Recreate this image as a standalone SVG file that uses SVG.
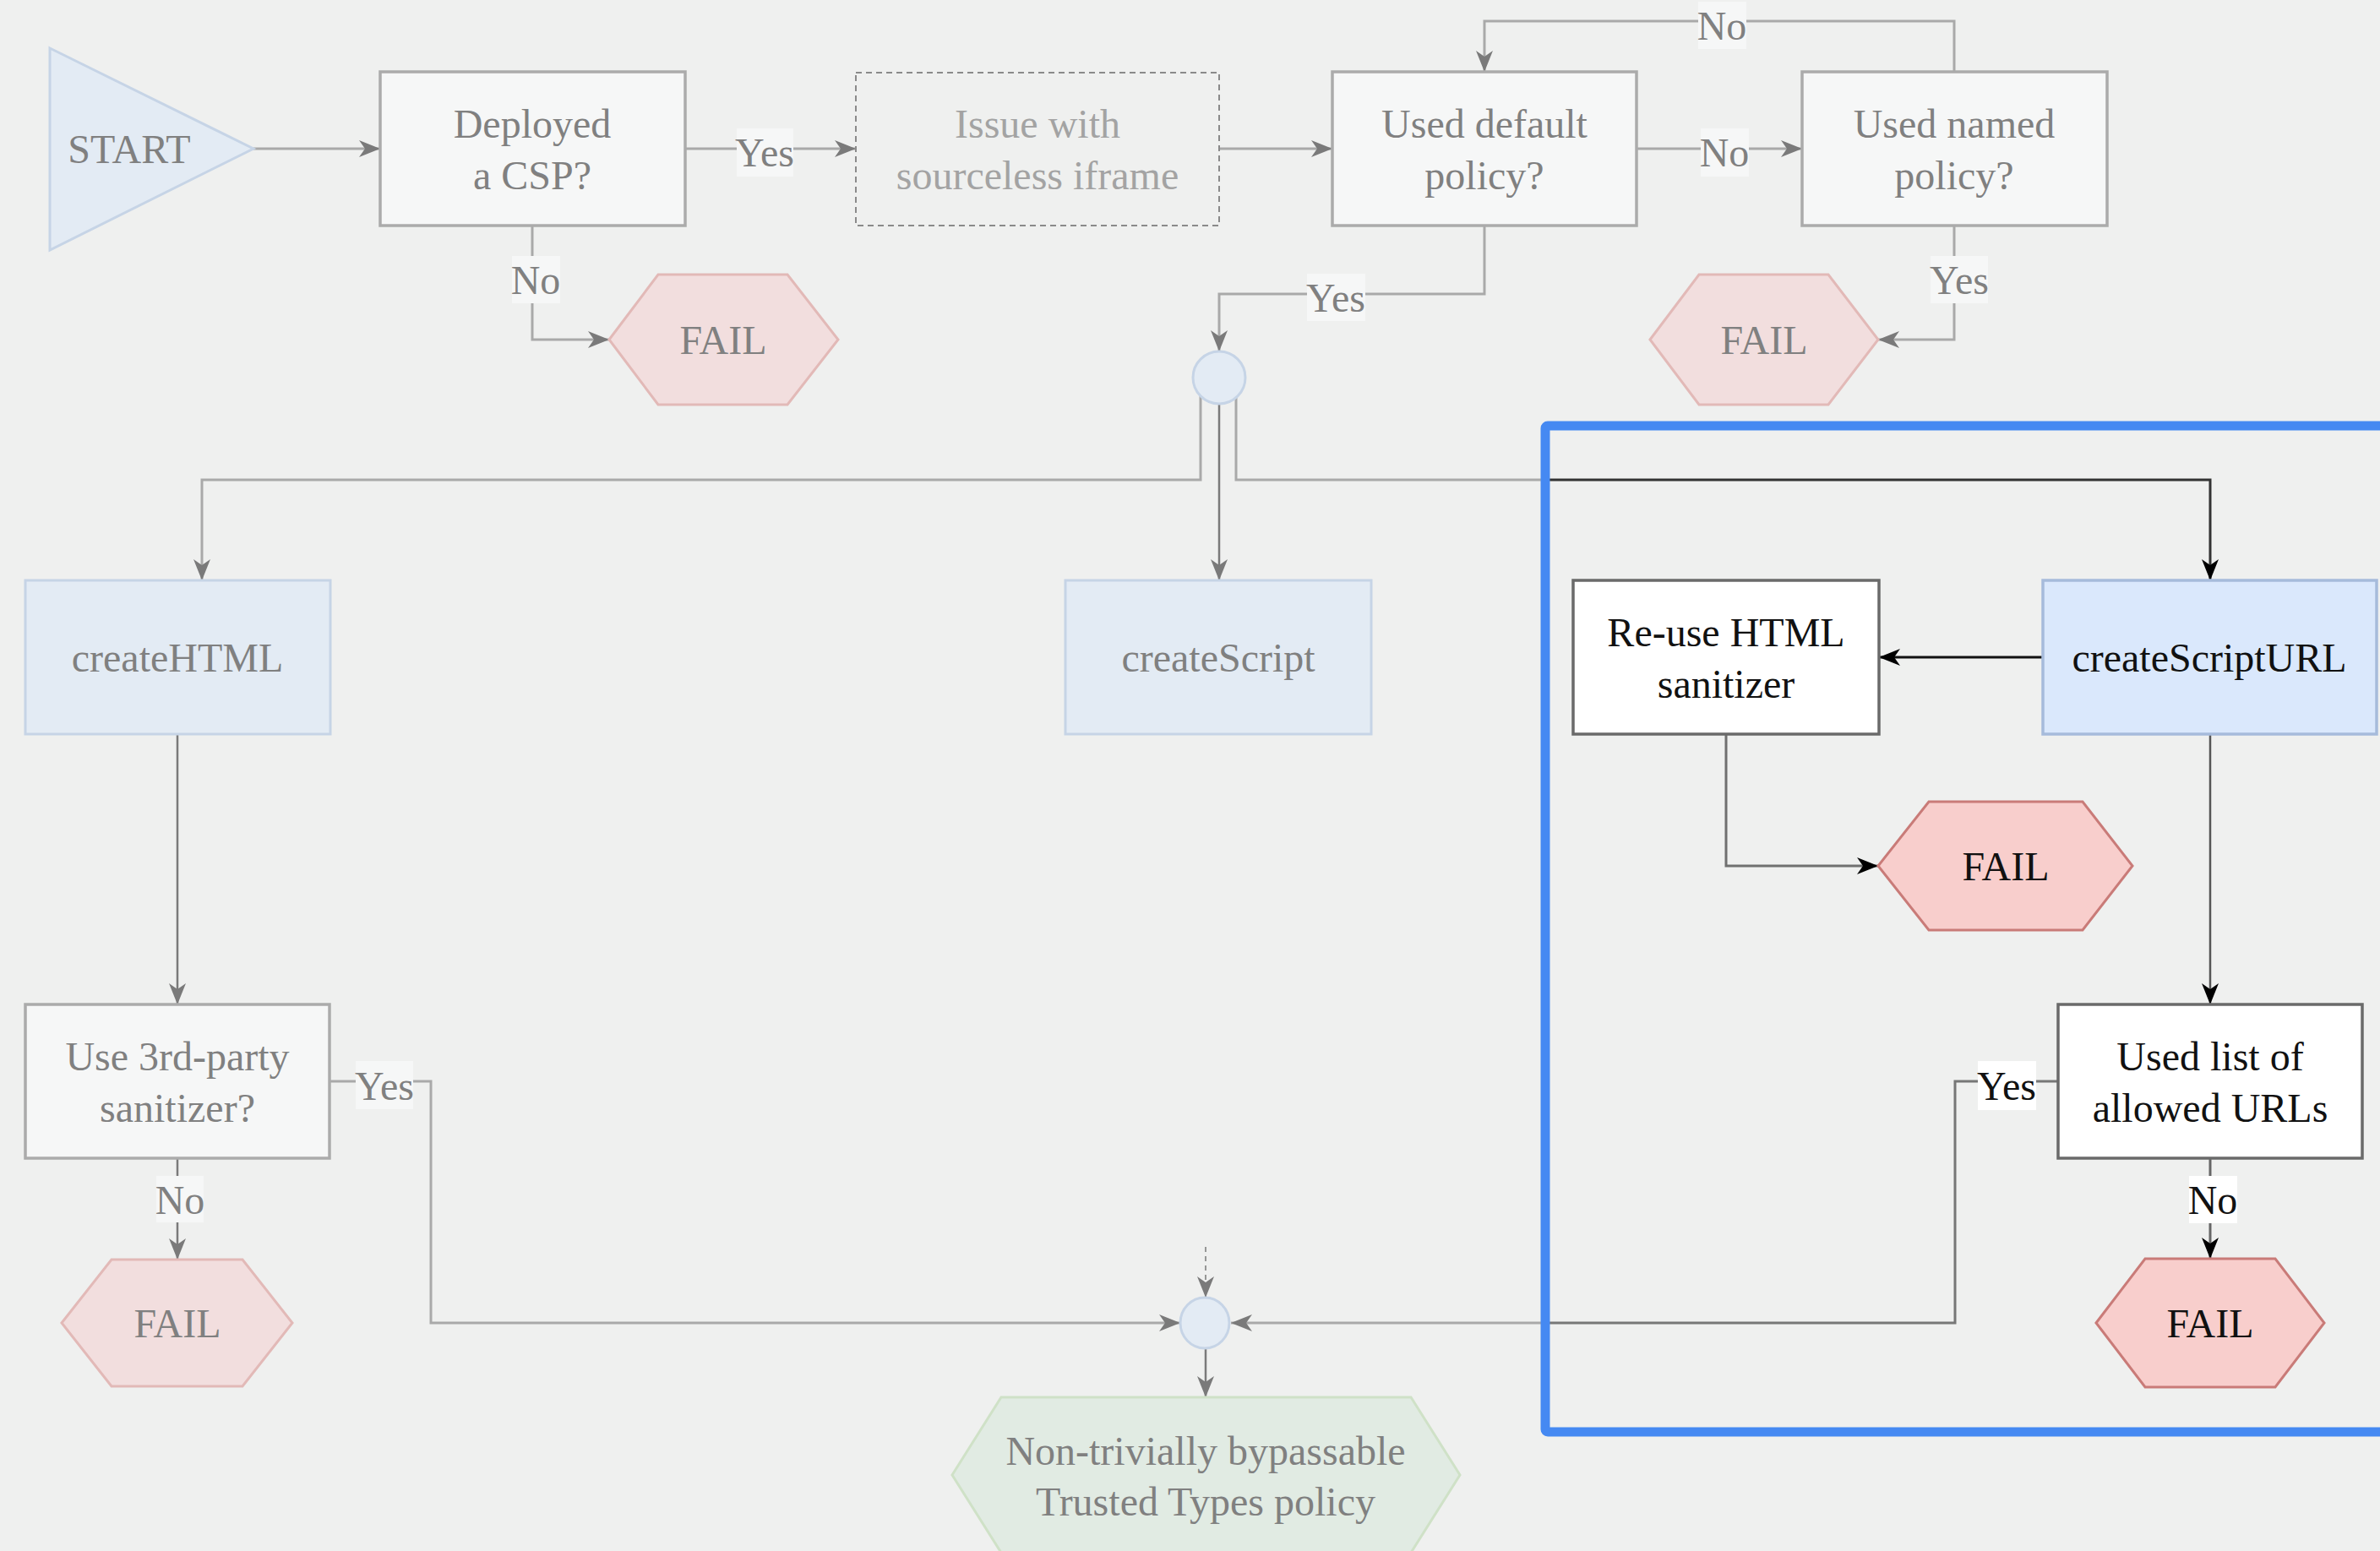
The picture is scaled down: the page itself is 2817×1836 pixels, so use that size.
<svg xmlns="http://www.w3.org/2000/svg" width="2817" height="1836" viewBox="0 0 2817 1836">
<defs>
<style>
text{font-family:"Liberation Serif","Times New Roman",serif;font-size:48px;text-anchor:middle}
.ft{fill:#808080}
.fl{fill:#a3a3a3}
.bt{fill:#111111}
.fbox{fill:#f6f7f7;stroke:#ababab;stroke-width:3.5}
.fblue{fill:#e3ebf4;stroke:#c6d4e6;stroke-width:3}
.ffail{fill:#f2dede;stroke:#e2b9b7;stroke-width:3}
.bfail{fill:#f8cecc;stroke:#c97b78;stroke-width:3}
.wbox{fill:#ffffff;stroke:#6a6a6a;stroke-width:3.5}
.bblue{fill:#dae8fc;stroke:#a6bbdb;stroke-width:3.5}
.c{fill:none;stroke:#a9a9a9;stroke-width:3}
.cd{fill:none;stroke:#7a7a7a;stroke-width:2.5}
.ck{fill:none;stroke:#333333;stroke-width:3}
.ga{marker-end:url(#ag)}
.ka{marker-end:url(#ak)}
.lbf{fill:#f6f7f7}
.lbw{fill:#ffffff}
</style>
<marker id="ag" markerUnits="userSpaceOnUse" markerWidth="26" markerHeight="22" viewBox="0 0 26 22" refX="25" refY="11" orient="auto">
<path d="M0,1 L25,11 L0,21 L7,11 Z" fill="#7a7a7a"/>
</marker>
<marker id="ak" markerUnits="userSpaceOnUse" markerWidth="26" markerHeight="22" viewBox="0 0 26 22" refX="25" refY="11" orient="auto">
<path d="M0,1 L25,11 L0,21 L7,11 Z" fill="#000000"/>
</marker>
</defs>
<rect x="0" y="0" width="2817" height="1836" fill="#eff0ef"/>

<g id="connectors">
<path class="c ga" d="M300,176 H450"/>
<path class="c ga" d="M811,176 H1013"/>
<path class="c ga" d="M1443,176 H1577"/>
<path class="c ga" d="M1937,176 H2133"/>
<path class="c ga" d="M2313,85 V25 H1757 V85"/>
<path class="c ga" d="M630,267 V402 H721"/>
<path class="c ga" d="M2313,267 V402 H2223"/>
<path class="c ga" d="M1757,267 V348 H1443 V416"/>
<path class="c ga" d="M1421,469 V568 H239 V687"/>
<path class="cd ga" d="M1443,478 V687"/>
<path class="c" d="M1463,469 V568 H1831"/>
<path class="ck ka" d="M1831,568 H2616 V687"/>
<path class="ck ka" d="M2418,778 H2224" style="stroke:#111"/>
<path class="ck ka" d="M2043,869 V1025 H2223" style="stroke:#707070"/>
<path class="ck ka" d="M2616,869 V1189" style="stroke:#555;stroke-width:2.5"/>
<path class="ck ka" d="M2616,1371 V1490" style="stroke:#666"/>
<path class="ck" d="M2436,1280 H2314 V1566 H1831" style="stroke:#777"/>
<path class="c ga" d="M1831,1566 H1457"/>
<path class="cd ga" d="M210,869 V1189"/>
<path class="cd ga" d="M210,1371 V1491"/>
<path class="c ga" d="M390,1280 H510 V1566 H1397"/>
<path class="cd ga" d="M1427,1476 V1536" stroke-dasharray="6,5" style="stroke-width:1.5"/>
<path class="cd ga" d="M1427,1597 V1654"/>
<g id="labels">
<rect class="lbf" x="872" y="152" width="67" height="57"/><text class="ft" x="905" y="197">Yes</text>
<rect class="lbf" x="2013" y="152" width="57" height="57"/><text class="ft" x="2041" y="197">No</text>
<rect class="lbf" x="2010" y="2" width="57" height="56"/><text class="ft" x="2038" y="47">No</text>
<rect class="lbf" x="606" y="303" width="57" height="56"/><text class="ft" x="634" y="348">No</text>
<rect class="lbf" x="2285" y="303" width="68" height="56"/><text class="ft" x="2319" y="348">Yes</text>
<rect class="lbf" x="1547" y="324" width="69" height="56"/><text class="ft" x="1581" y="369">Yes</text>
<rect class="lbf" x="421" y="1256" width="68" height="57"/><text class="ft" x="455" y="1302">Yes</text>
<rect class="lbf" x="185" y="1392" width="56" height="55"/><text class="ft" x="213" y="1437">No</text>
<rect class="lbw" x="2341" y="1256" width="69" height="58"/><text class="bt" x="2375" y="1302">Yes</text>
<rect class="lbw" x="2591" y="1392" width="57" height="56"/><text class="bt" x="2619" y="1437">No</text>
</g>
</g>

<g id="start"><polygon class="fblue" points="59,57 300,176 59,296"/><text class="ft" x="153" y="193">START</text></g>
<g id="deployed"><rect class="fbox" x="450" y="85" width="361" height="182"/><text class="ft" x="630" y="163">Deployed</text><text class="ft" x="630" y="224">a CSP?</text></g>
<g id="issue"><rect x="1013" y="86" width="430" height="181" fill="none" stroke="#8a8a8a" stroke-width="2" stroke-dasharray="7,5"/><text class="fl" x="1228" y="163">Issue with</text><text class="fl" x="1228" y="224">sourceless iframe</text></g>
<g id="useddefault"><rect class="fbox" x="1577" y="85" width="360" height="182"/><text class="ft" x="1757" y="163">Used default</text><text class="ft" x="1757" y="224">policy?</text></g>
<g id="usednamed"><rect class="fbox" x="2133" y="85" width="361" height="182"/><text class="ft" x="2313" y="163">Used named</text><text class="ft" x="2313" y="224">policy?</text></g>
<g id="fail1"><polygon class="ffail" points="721,402 779,325 932,325 992,402 932,479 779,479"/><text class="ft" x="856" y="419">FAIL</text></g>
<g id="fail2"><polygon class="ffail" points="1953,402 2011,325 2164,325 2223,402 2164,479 2011,479"/><text class="ft" x="2088" y="419">FAIL</text></g>
<g id="junction1"><circle class="fblue" cx="1443" cy="447" r="31"/></g>
<g id="createhtml"><rect class="fblue" x="30" y="687" width="361" height="182"/><text class="ft" x="210" y="795">createHTML</text></g>
<g id="createscript"><rect class="fblue" x="1261" y="687" width="362" height="182"/><text class="ft" x="1442" y="795">createScript</text></g>
<g id="reuse"><rect class="wbox" x="1862" y="687" width="362" height="182"/><text class="bt" x="2043" y="765">Re-use HTML</text><text class="bt" x="2043" y="826">sanitizer</text></g>
<g id="createscripturl"><rect class="bblue" x="2418" y="687" width="395" height="182"/><text class="bt" x="2615" y="795">createScriptURL</text></g>
<g id="fail3"><polygon class="bfail" points="2223,1025 2283,949 2465,949 2524,1025 2465,1101 2283,1101"/><text class="bt" x="2374" y="1042">FAIL</text></g>
<g id="use3rd"><rect class="fbox" x="30" y="1189" width="360" height="182"/><text class="ft" x="210" y="1267">Use 3rd-party</text><text class="ft" x="210" y="1328">sanitizer?</text></g>
<g id="fail4"><polygon class="ffail" points="73,1566 132,1491 287,1491 346,1566 287,1641 132,1641"/><text class="ft" x="210" y="1583">FAIL</text></g>
<g id="usedlist"><rect class="wbox" x="2436" y="1189" width="360" height="182"/><text class="bt" x="2616" y="1267">Used list of</text><text class="bt" x="2616" y="1328">allowed URLs</text></g>
<g id="fail5"><polygon class="bfail" points="2481,1566 2539,1490 2693,1490 2751,1566 2693,1642 2539,1642"/><text class="bt" x="2616" y="1583">FAIL</text></g>
<g id="junction2"><ellipse class="fblue" cx="1426" cy="1566" rx="29" ry="30"/></g>
<g id="result"><polygon points="1127,1746 1185,1654 1670,1654 1728,1746 1670,1838 1185,1838" fill="#e1ebe3" stroke="#cfe1c7" stroke-width="3"/><text class="ft" x="1427" y="1734">Non-trivially bypassable</text><text class="ft" x="1427" y="1794">Trusted Types policy</text></g>

<g id="highlight"><rect x="1829" y="504" width="1100" height="1191" rx="3" fill="none" stroke="#4589f2" stroke-width="11"/></g>
</svg>
